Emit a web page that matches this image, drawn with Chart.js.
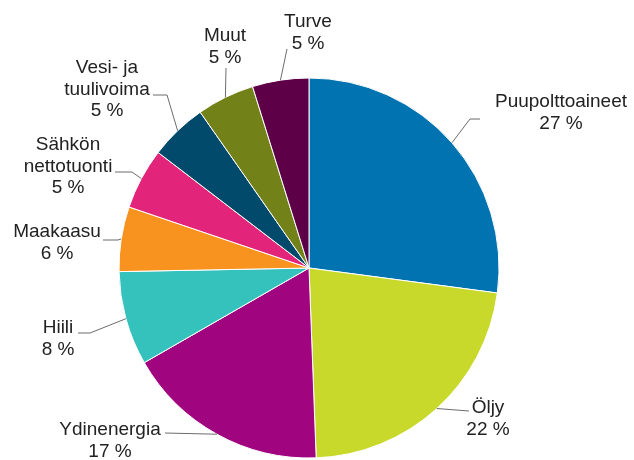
<!DOCTYPE html>
<html>
<head>
<meta charset="utf-8">
<script src="https://cdn.jsdelivr.net/npm/chart.js@4.4.1/dist/chart.umd.min.js"></script>
<style>
  html, body { margin: 0; padding: 0; background: #fff; }
  #wrap { width: 634px; height: 460px; position: relative; }
</style>
</head>
<body>
<div id="wrap"><canvas id="energyPie"></canvas></div>
<script>
// Energy sources, share of total consumption (%)
const categories = ['Puupolttoaineet', 'Öljy', 'Ydinenergia', 'Hiili', 'Maakaasu',
  'Sähkön nettotuonti', 'Vesi- ja tuulivoima', 'Muut', 'Turve'];
const shares = [27.1, 22.3, 17.3, 8.0, 5.5, 5.2, 4.9, 4.9, 4.8];
const shareLabels = ['27 %', '22 %', '17 %', '8 %', '6 %', '5 %', '5 %', '5 %', '5 %'];
// how each name is wrapped on the chart
const nameLines = [['Puupolttoaineet'], ['Öljy'], ['Ydinenergia'], ['Hiili'], ['Maakaasu'],
  ['Sähkön', 'nettotuonti'], ['Vesi- ja', 'tuulivoima'], ['Muut'], ['Turve']];
const sliceColors = ['#0073b0', '#c8d92c', '#a0047f', '#36c2bc', '#f7931e',
  '#e2247b', '#024a6c', '#728219', '#5d0048'];

// label placement, offsets from the pie centre (px)
const labelLayout = [
  { elbow: [161, -149], end: [171, -149], text: [252, -161] },
  { elbow: null,        end: [160, 143],  text: [179, 145] },
  { elbow: null,        end: [-144, 165], text: [-199, 167] },
  { elbow: [-219, 65],  end: [-231, 65],  text: [-251, 65] },
  { elbow: [-191, -28], end: [-206, -28], text: [-252, -31] },
  { elbow: [-177, -96], end: [-194, -96], text: [-241, -118] },
  { elbow: [-142, -173], end: [-156, -173], text: [-202, -195] },
  { elbow: null,        end: [-83, -200], text: [-84, -227] },
  { elbow: null,        end: [-22, -219], text: [-1, -241] },
];

const calloutPlugin = {
  id: 'callouts',
  afterDraw(chart) {
    const ctx = chart.ctx;
    const arcs = chart.getDatasetMeta(0).data;
    ctx.save();
    arcs.forEach((arc, i) => {
      const p = arc.getProps(['x', 'y', 'startAngle', 'endAngle', 'outerRadius'], true);
      const mid = (p.startAngle + p.endAngle) / 2;
      const lay = labelLayout[i];
      const sx = p.x + Math.cos(mid) * p.outerRadius;
      const sy = p.y + Math.sin(mid) * p.outerRadius;

      // leader line
      ctx.strokeStyle = '#6b6b6b';
      ctx.lineWidth = 1;
      ctx.beginPath();
      ctx.moveTo(sx, sy);
      if (lay.elbow) ctx.lineTo(p.x + lay.elbow[0], p.y + lay.elbow[1]);
      ctx.lineTo(p.x + lay.end[0], p.y + lay.end[1]);
      ctx.stroke();

      // name + share
      ctx.fillStyle = '#222';
      ctx.font = '19px "Liberation Sans", Arial, sans-serif';
      ctx.textAlign = 'center';
      ctx.textBaseline = 'alphabetic';
      const lines = nameLines[i].concat([shareLabels[i]]);
      lines.forEach((t, k) => {
        ctx.fillText(t, p.x + lay.text[0], p.y + lay.text[1] + k * 21.5);
      });
    });
    ctx.restore();
  }
};

new Chart(document.getElementById('energyPie'), {
  type: 'pie',
  data: {
    labels: categories,
    datasets: [{
      data: shares,
      backgroundColor: sliceColors,
      borderColor: '#ffffff',
      borderWidth: 1,
      hoverOffset: 0,
    }],
  },
  options: {
    responsive: true,
    maintainAspectRatio: false,
    animation: false,
    radius: 190,
    layout: { padding: { left: 119, right: 135, top: 78, bottom: 2 } },
    plugins: {
      legend: { display: false },
      tooltip: { enabled: false },
    },
  },
  plugins: [calloutPlugin],
});
</script>
</body>
</html>
